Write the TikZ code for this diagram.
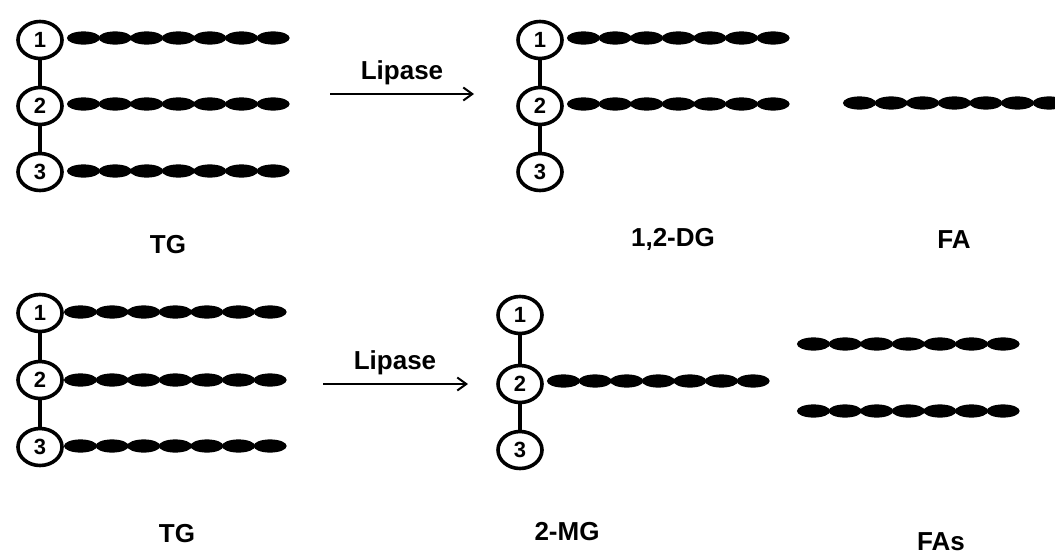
\documentclass[tikz,border=0pt]{standalone}
\usepackage{fontspec}
\setmainfont{Liberation Sans}
\usetikzlibrary{arrows.meta,shapes.geometric}

\tikzstyle{gS}=[ellipse,minimum width=44pt,minimum height=37pt,inner sep=0pt,draw,line width=3.6pt,font=\fontsize{22}{22}\selectfont\bfseries]
\tikzstyle{bS}=[line width=3.2pt]
\tikzstyle{aS}=[line width=2pt,-{Straight Barb[length=9pt,width=13pt,line width=2pt]}]
\tikzstyle{tS}=[anchor=base,inner sep=0pt,font=\fontsize{26}{26}\selectfont\bfseries]

% one fatty acid chain, seven beads from (#1,#2)
\newcommand{\fachain}[2]{\foreach \k in {0,...,6} \fill (#1+16.5+31.6*\k,#2) ellipse (16.6pt and 6.6pt);}

\begin{document}
\begin{tikzpicture}[x=1pt,y=-1pt]
                \useasboundingbox (0,0) rectangle (1055,554);
                % top row
                \draw (40,40) node[gS] (a1) {1};
                \draw (40,106) node[gS] (a2) {2};
                \draw (40,172) node[gS] (a3) {3};
                \fachain{67}{38}
                \fachain{67}{104}
                \fachain{67}{171}
                \coordinate (p0) at (330,94);
                \coordinate (p1) at (474,94);
                \draw (402,79) node[tS] (l1) {Lipase};
                \draw (540,40) node[gS] (b1) {1};
                \draw (540,106) node[gS] (b2) {2};
                \draw (540,172) node[gS] (b3) {3};
                \fachain{567}{38}
                \fachain{567}{104}
                \fachain{843}{103}
                \draw (168,253) node[tS] (t1) {TG};
                \draw (673,246) node[tS] (t2) {1,2-DG};
                \draw (954,248) node[tS] (t3) {FA};
                % bottom row
                \draw (40,313) node[gS] (c1) {1};
                \draw (40,380) node[gS] (c2) {2};
                \draw (40,447) node[gS] (c3) {3};
                \fachain{64}{312}
                \fachain{64}{380}
                \fachain{64}{446}
                \coordinate (q0) at (323,384);
                \coordinate (q1) at (468,384);
                \draw (395,369) node[tS] (l2) {Lipase};
                \draw (520,315) node[gS] (d1) {1};
                \draw (520,384) node[gS] (d2) {2};
                \draw (520,450) node[gS] (d3) {3};
                \fachain{547}{381}
                \fachain{797}{344}
                \fachain{797}{411}
                \draw (177,542) node[tS] (t4) {TG};
                \draw (567,540) node[tS] (t5) {2-MG};
                \draw (941,550) node[tS] (t6) {FAs};
                \path
                    (a1) edge[bS] (a2)
                    (a2) edge[bS] (a3)
                    (b1) edge[bS] (b2)
                    (b2) edge[bS] (b3)
                    (c1) edge[bS] (c2)
                    (c2) edge[bS] (c3)
                    (d1) edge[bS] (d2)
                    (d2) edge[bS] (d3)
                    (p0) edge[aS] (p1)
                    (q0) edge[aS] (q1)
                ;
        \end{tikzpicture}
\end{document}
